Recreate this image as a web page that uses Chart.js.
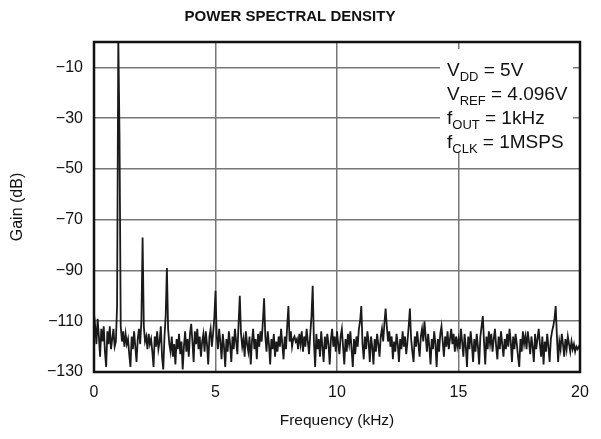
<!DOCTYPE html>
<html>
<head>
<meta charset="utf-8">
<script src="https://cdn.jsdelivr.net/npm/chart.js@4/dist/chart.umd.min.js"></script>
<style>
  body { margin: 0; background: #fff; }
  #box { width: 601px; height: 439px; }
</style>
</head>
<body>
<div id="box"><canvas id="psdChart" width="601" height="439"></canvas></div>
<script>
// gain readings every 0.05 kHz, split in 5 kHz blocks
const freqStep = 0.05;
const gain0to5 = [
  -107, -112, -119, -109, -116, -124, -113, -118, -112, -122,
  -128, -114, -119, -112, -121, -117, -113, -120, -118, -104,
  2, -37, -112, -118, -114, -120, -115, -119, -117, -123,
  -128, -116, -121, -114, -120, -126, -117, -113, -119, -110,
  -77, -112, -118, -116, -121, -115, -119, -117, -122, -128,
  -116, -120, -114, -121, -118, -112, -124, -129, -116, -108,
  -89, -113, -119, -122, -116, -124, -119, -127, -117, -121,
  -115, -123, -118, -129, -120, -114, -122, -117, -124, -115,
  -111, -118, -126, -114, -119, -113, -121, -116, -124, -118,
  -115, -122, -114, -119, -127, -116, -113, -120, -115, -109
];
const gain5to10 = [
  -98, -116, -121, -113, -118, -125, -115, -120, -128, -117,
  -122, -114, -119, -126, -116, -121, -113, -118, -123, -111,
  -100, -115, -120, -117, -124, -114, -119, -122, -116, -127,
  -118, -113, -121, -117, -125, -115, -120, -114, -118, -110,
  -101, -116, -122, -114, -119, -127, -117, -121, -115, -124,
  -118, -122, -116, -120, -113, -119, -125, -116, -121, -112,
  -104, -118, -114, -120, -117, -116, -118, -117, -121, -115,
  -119, -114, -122, -116, -120, -113, -118, -123, -115, -108,
  -96, -118, -128, -115, -121, -117, -124, -114, -120, -126,
  -116, -121, -115, -119, -127, -117, -113, -120, -116, -122
];
const gain10to15 = [
  -114, -119, -123, -116, -113, -120, -127, -117, -122, -115,
  -119, -114, -121, -128, -117, -123, -116, -120, -113, -110,
  -104, -119, -125, -116, -121, -114, -118, -126, -116, -120,
  -127, -117, -122, -115, -119, -124, -116, -113, -118, -111,
  -105, -112, -118, -114, -120, -116, -125, -118, -122, -115,
  -119, -126, -117, -121, -114, -120, -116, -123, -118, -112,
  -105, -117, -122, -126, -116, -120, -114, -119, -124, -116,
  -113, -118, -110, -116, -122, -115, -120, -127, -117, -121,
  -114, -119, -128, -117, -122, -115, -112, -118, -124, -116,
  -120, -114, -121, -117, -113, -119, -115, -122, -116, -120
];
const gain15to20 = [
  -117, -121, -113, -118, -124, -115, -120, -128, -116, -121,
  -114, -119, -126, -117, -122, -115, -120, -127, -116, -112,
  -108, -118, -127, -116, -121, -114, -119, -115, -122, -117,
  -113, -120, -125, -116, -121, -114, -119, -124, -117, -121,
  -115, -120, -113, -118, -126, -116, -121, -115, -119, -124,
  -128, -117, -122, -114, -119, -116, -121, -114, -118, -123,
  -116, -120, -126, -115, -121, -117, -113, -119, -124, -116,
  -127, -118, -122, -115, -120, -126, -117, -114, -112, -109,
  -104, -116, -126, -118, -121, -115, -119, -124, -117, -121,
  -116, -119, -122, -118, -121, -119, -122, -120, -121, -120,
  -121
];
const yTicks = [-130, -110, -90, -70, -50, -30, -10];
const xTicks = [0, 5, 10, 15, 20];
const noteLines = [
  ["V", "DD", " = 5V"],
  ["V", "REF", " = 4.096V"],
  ["f", "OUT", " = 1kHz"],
  ["f", "CLK", " = 1MSPS"]
];

const gainAll = gain0to5.concat(gain5to10, gain10to15, gain15to20);
const points = gainAll.map((g, i) => ({ x: +(i * freqStep).toFixed(2), y: g }));

const FONT = "'Liberation Sans', Arial, Helvetica, sans-serif";

const frameAndNotes = {
  id: "frameAndNotes",
  afterDatasetsDraw(c) {
    const ctx = c.ctx;
    const a = c.chartArea;
    ctx.save();
    // white box behind the conditions text
    ctx.fillStyle = "#fff";
    ctx.fillRect(440, 49, 133, 104);
    ctx.fillStyle = "#111";
    ctx.textBaseline = "alphabetic";
    noteLines.forEach((ln, i) => {
      let x = 447;
      const y = 76 + i * 24;
      ctx.font = "19px " + FONT;
      ctx.fillText(ln[0], x, y);
      x += ctx.measureText(ln[0]).width;
      ctx.font = "13px " + FONT;
      ctx.fillText(ln[1], x, y + 5);
      x += ctx.measureText(ln[1]).width;
      ctx.font = "19px " + FONT;
      ctx.fillText(ln[2], x, y);
    });
    // heavy plot frame
    ctx.strokeStyle = "#111";
    ctx.lineWidth = 2.5;
    ctx.strokeRect(a.left, a.top, a.right - a.left, a.bottom - a.top);
    ctx.restore();
  }
};

new Chart(document.getElementById("psdChart"), {
  type: "line",
  data: {
    datasets: [{
      data: points,
      borderColor: "#1a1a1a",
      borderWidth: 1.8,
      pointRadius: 0,
      tension: 0
    }]
  },
  options: {
    responsive: false,
    animation: false,
    layout: { padding: { right: 21 } },
    plugins: {
      legend: { display: false },
      tooltip: { enabled: false },
      title: {
        display: true,
        text: "POWER SPECTRAL DENSITY",
        color: "#111",
        font: { family: FONT, size: 15, weight: "bold" },
        padding: { top: 8, bottom: 16 }
      }
    },
    scales: {
      x: {
        type: "linear",
        min: 0,
        max: 20,
        afterBuildTicks: s => { s.ticks = xTicks.map(v => ({ value: v })); },
        afterFit: s => { s.height = 67; },
        grid: { color: "#777", lineWidth: 1.5, drawTicks: false },
        border: { display: false },
        ticks: { color: "#111", padding: 11, font: { family: FONT, size: 16 } },
        title: {
          display: true,
          text: "Frequency (kHz)",
          color: "#111",
          font: { family: FONT, size: 15.5 },
          padding: { top: 0, bottom: 9 }
        }
      },
      y: {
        min: -130,
        max: 0,
        afterBuildTicks: s => { s.ticks = yTicks.map(v => ({ value: v })); },
        afterFit: s => { s.width = 94; },
        grid: { color: "#777", lineWidth: 1.5, drawTicks: false },
        border: { display: false },
        ticks: {
          color: "#111",
          padding: 11,
          font: { family: FONT, size: 16 },
          callback: v => String(v).replace("-", "\u2212")
        },
        title: {
          display: true,
          text: "Gain (dB)",
          color: "#111",
          font: { family: FONT, size: 16 },
          padding: { top: 8, bottom: 0 }
        }
      }
    }
  },
  plugins: [frameAndNotes]
});
</script>
</body>
</html>
